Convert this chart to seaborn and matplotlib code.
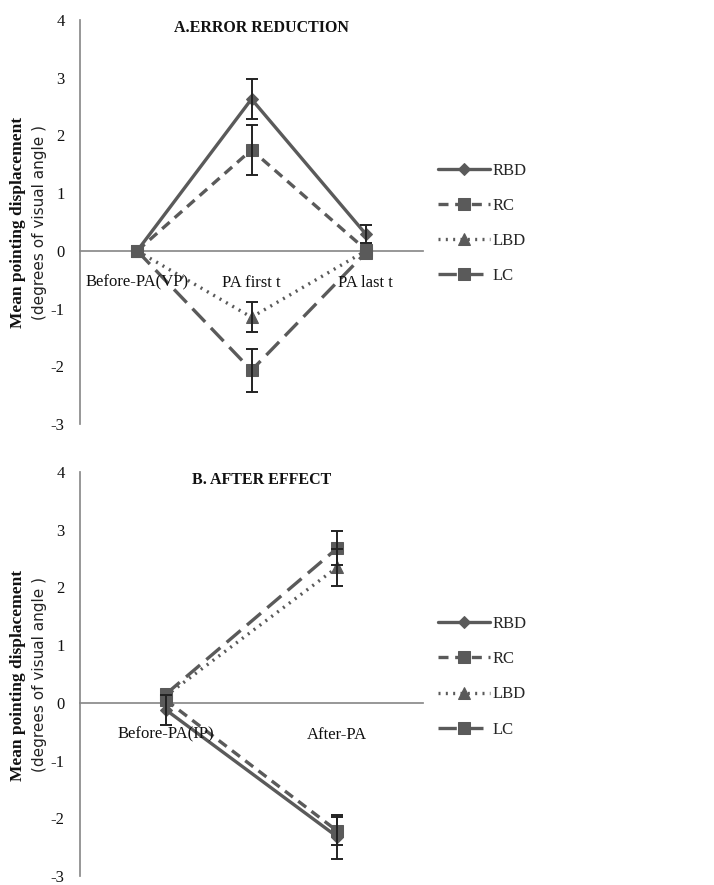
import matplotlib
matplotlib.use("Agg")
import matplotlib.pyplot as plt
import seaborn as sns
import numpy as np
import pandas as pd

# ---- data ----
groups = ["RBD", "RC", "LBD", "LC"]

cats_a = ["Before-PA(VP)", "PA first t", "PA last t"]
a_rbd = [0.0, 2.63, 0.29]
a_rc = [0.0, 1.75, 0.02]
a_lbd = [0.0, -1.15, 0.0]
a_lc = [0.0, -2.07, -0.03]
a_rbd_err = [0.0, 0.34, 0.16]
a_rc_err = [0.0, 0.43, 0.0]
a_lbd_err = [0.0, 0.26, 0.0]
a_lc_err = [0.0, 0.37, 0.0]

cats_b = ["Before-PA(IP)", "After-PA"]
b_rbd = [-0.12, -2.32]
b_rc = [0.05, -2.22]
b_lbd = [0.12, 2.35]
b_lc = [0.15, 2.68]
b_rbd_err = [0.26, 0.38]
b_rc_err = [0.0, 0.24]
b_lbd_err = [0.0, 0.32]
b_lc_err = [0.0, 0.29]

yticks = [-3, -2, -1, 0, 1, 2, 3, 4]
titles = ["A.ERROR REDUCTION", "B. AFTER EFFECT"]

# ---- style ----
sns.set_theme(style="white")
plt.rcParams['font.family'] = ['Liberation Serif', 'DejaVu Serif']
GRAY = "#5a5a5a"
styles = {
    "RBD": dict(linestyle="-", marker="D", markersize=6),
    "RC": dict(linestyle=(0, (3.0, 2.0)), marker="s", markersize=9),
    "LBD": dict(linestyle=(0, (0.6, 1.6)), marker="^", markersize=8),
    "LC": dict(linestyle=(0, (5.5, 2.5)), marker="s", markersize=9),
}

fig = plt.figure(figsize=(7.14, 8.85), dpi=100)
ax_a = fig.add_axes([80 / 714, 1 - 424 / 885, 343 / 714, 404 / 885])
ax_b = fig.add_axes([80 / 714, 1 - 876 / 885, 343 / 714, 404 / 885])

panels = [
    (ax_a, cats_a, [a_rbd, a_rc, a_lbd, a_lc], [a_rbd_err, a_rc_err, a_lbd_err, a_lc_err], titles[0], 0.53, 0.663),
    (ax_b, cats_b, [b_rbd, b_rc, b_lbd, b_lc], [b_rbd_err, b_rc_err, b_lbd_err, b_lc_err], titles[1], 0.53, 0.66),
]

for ax, cats, vals, errs, title, tx, ly in panels:
    pos = np.arange(len(cats))
    handles = []
    for g, v, e in zip(groups, vals, errs):
        df = pd.DataFrame({"pos": pos, "val": v})
        st = styles[g]
        sns.lineplot(data=df, x="pos", y="val", ax=ax, color=GRAY, linewidth=2.4,
                     linestyle=st["linestyle"], marker=st["marker"], markersize=st["markersize"],
                     markeredgecolor=GRAY, markerfacecolor=GRAY, legend=False, zorder=3)
        handles.append(ax.lines[-1])
        e_arr = np.array(e)
        mask = e_arr > 0
        if mask.any():
            ax.errorbar(pos[mask], np.array(v)[mask], yerr=e_arr[mask], fmt="none",
                        ecolor="#222222", elinewidth=1.4, capsize=4.5, capthick=1.4, zorder=4)
    ax.set_xlim(-0.5, len(cats) - 0.5)
    ax.set_ylim(-3, 4)
    ax.set_yticks(yticks)
    ax.set_yticklabels([str(t) for t in yticks], fontsize=12)
    ax.set_xticks(np.arange(len(cats) + 1) - 0.5)
    ax.set_xticklabels([])
    ax.set_xlabel("")
    ax.set_ylabel("")
    for s in ["top", "right"]:
        ax.spines[s].set_visible(False)
    ax.spines["bottom"].set_position(("data", 0))
    ax.spines["bottom"].set_color("#8a8a8a")
    ax.spines["left"].set_color("#8a8a8a")
    ax.spines["bottom"].set_zorder(1)
    ax.tick_params(axis="both", direction="out", length=5, width=1, color="#8a8a8a", pad=6)
    ax.tick_params(axis="y", labelcolor="#111111")
    for i, c in enumerate(cats):
        ax.text(i, -0.55, c, ha="center", va="center", fontsize=12, color="#111111")
    ax.text(tx, 1.0, title, transform=ax.transAxes, ha="center", va="top",
            fontsize=11.5, fontweight="bold", color="#111111")
    ax.legend(handles, groups, loc="upper left", bbox_to_anchor=(1.025, ly), frameon=False,
              fontsize=12, handlelength=3.1, handletextpad=0.15, labelspacing=1.15,
              numpoints=1, borderaxespad=0)

for yc in [1 - 222 / 885, 1 - 675 / 885]:
    fig.text(18 / 714, yc, "Mean pointing displacement", rotation=90, ha="center", va="center",
             fontsize=12.5, fontweight="bold", color="#111111")
    fig.text(40 / 714, yc, "(degrees of visual angle )", rotation=90, ha="center", va="center",
             fontsize=11, color="#222222", family=["DejaVu Sans"])

fig.savefig("out.png", dpi=100)
